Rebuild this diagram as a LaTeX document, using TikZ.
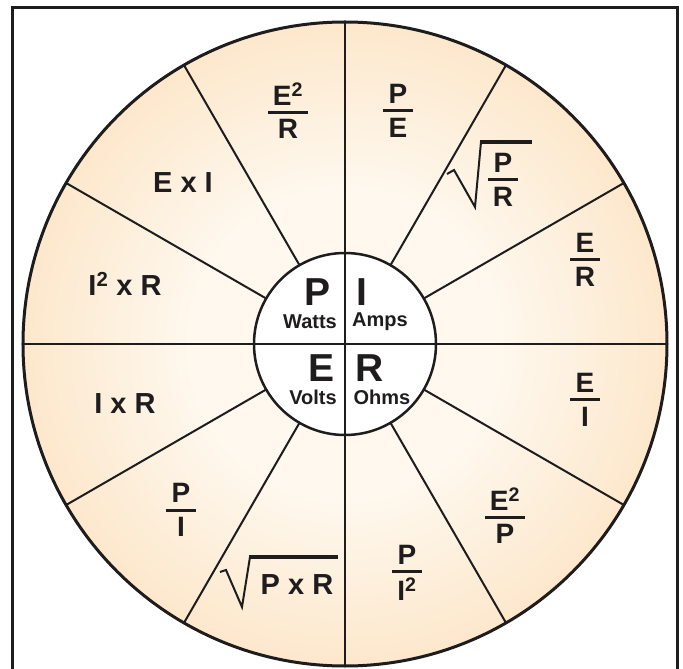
\documentclass[tikz,border=0pt]{standalone}
\usepackage{fontspec}
\setmainfont{Liberation Sans}

\definecolor{wheelin}{RGB}{254,248,238}
\definecolor{wheelout}{RGB}{250,200,138}
\definecolor{ink}{RGB}{30,28,29}
\pgfdeclareradialshading{wheelshade}{\pgfpointorigin}{color(0bp)=(wheelin); color(12bp)=(wheelin); color(50bp)=(wheelout)}

% stacked fraction with a heavy bar: bar width, top, bottom
\newcommand{\wfrac}[3]{\vbox{\offinterlineskip\halign{\hfil##\hfil\cr #2\cr\noalign{\kern5.5pt}\rule{#1}{3pt}\cr\noalign{\kern5.5pt}#3\cr}}}

\begin{document}
\begin{tikzpicture}[
    x=1pt, y=1pt,
    spoke/.style={draw=ink, line width=2pt},
    rim/.style={draw=ink, line width=3pt},
    radical/.style={draw=ink, line width=2pt, line join=miter},
    radbar/.style={draw=ink, line width=3.2pt},
    prodlbl/.style={text=ink, font=\bfseries\fontsize{29}{30}\selectfont, inner sep=0pt},
    fraclbl/.style={text=ink, font=\bfseries\fontsize{28}{29}\selectfont, inner sep=0pt},
    bigletter/.style={text=ink, font=\bfseries\fontsize{39}{40}\selectfont, inner sep=0pt},
    unitword/.style={text=ink, font=\bfseries\fontsize{20}{21}\selectfont, inner sep=0pt},
  ]
  \useasboundingbox (-345,-325) rectangle (338,344);
  \fill[white] (-345,-325) rectangle (338,344);

  % outer frame
  \draw[ink, line width=3pt] (-332,-330) -- (-332,336.5) -- (332.5,336.5) -- (332.5,-330);

  % wheel
  \coordinate (hub) at (0,0);
  \shade[shading=wheelshade] (hub) circle (322);
  \fill[white] (hub) circle (91);
  \foreach \a in {30,60,120,150,210,240,300,330}
    \draw[spoke] (\a:91) -- (\a:322);
  \draw[spoke] (-322,0) -- (322,0);
  \draw[spoke] (0,-322) -- (0,322);
  \draw[rim, line width=2.5pt] (hub) circle (91);
  \draw[rim] (hub) circle (322);

  % hub quadrants
  \node[bigletter] (P) at (-27,52) {P};
  \node[unitword] (watts) at (-35,22) {Watts};
  \node[bigletter] (I) at (17,52) {I};
  \node[unitword] (amps) at (35,22) {Amps};
  \node[bigletter] (E) at (-23,-24) {E};
  \node[unitword] (volts) at (-32,-53) {Volts};
  \node[bigletter] (R) at (25,-24) {R};
  \node[unitword] (ohms) at (37,-53) {Ohms};

  % power sector
  \node[fraclbl] (p1) at (-57,233) {\wfrac{40pt}{E\textsuperscript{2}}{R}};
  \node[prodlbl] (p2) at (-162,161) {E x I};
  \node[prodlbl] (p3) at (-220,60) {I\textsuperscript{2} x R};

  % current sector
  \node[fraclbl] (i1) at (53,233) {\wfrac{30pt}{P}{E}};
  \node[fraclbl] (i2) at (158,164) {\wfrac{30pt}{P}{R}};
  \draw[radical] ([shift={(-56,6)}]i2.center) -- ([shift={(-49,10)}]i2.center)
    -- ([shift={(-28,-27)}]i2.center) -- ([shift={(-22,38)}]i2.center);
  \draw[radbar] ([shift={(-23,38)}]i2.center) -- ([shift={(29,38)}]i2.center);
  \node[fraclbl] (i3) at (240,84) {\wfrac{30pt}{E}{R}};

  % resistance sector
  \node[fraclbl] (r1) at (240,-56) {\wfrac{30pt}{E}{I}};
  \node[fraclbl] (r2) at (160,-172) {\wfrac{40pt}{E\textsuperscript{2}}{P}};
  \node[fraclbl] (r3) at (62,-229) {\wfrac{30pt}{P}{I\textsuperscript{2}}};

  % voltage sector
  \node[prodlbl] (v1) at (-48,-241) {P x R};
  \draw[radical] ([shift={(-77,13)}]v1.center) -- ([shift={(-71,15)}]v1.center)
    -- ([shift={(-55,-22)}]v1.center) -- ([shift={(-47,28)}]v1.center);
  \draw[radbar] ([shift={(-48,28)}]v1.center) -- ([shift={(41,28)}]v1.center);
  \node[fraclbl] (v2) at (-164,-166) {\wfrac{30pt}{P}{I}};
  \node[prodlbl] (v3) at (-220,-60) {I x R};
\end{tikzpicture}
\end{document}
